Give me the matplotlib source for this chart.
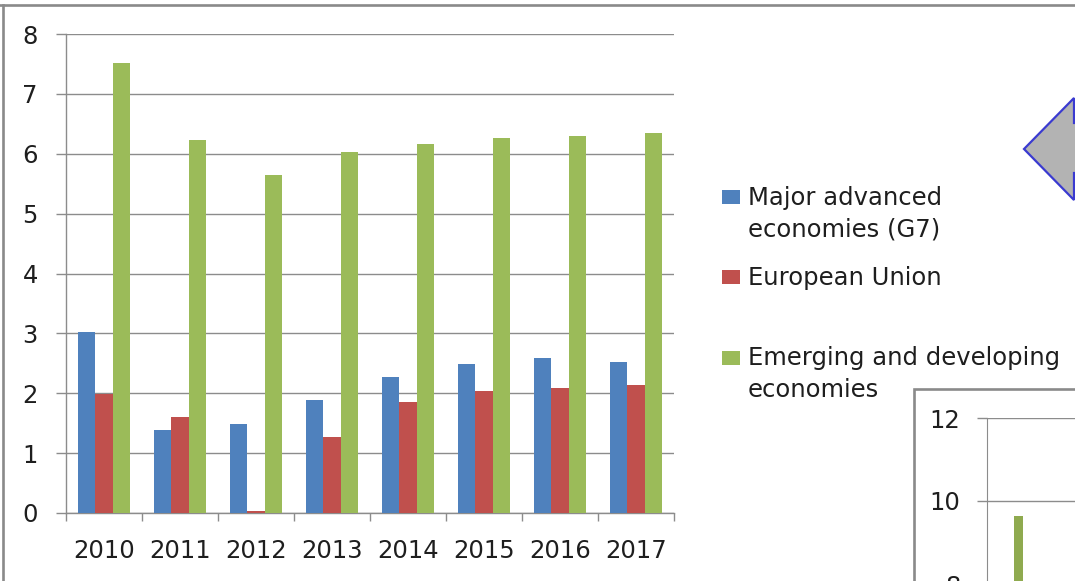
import matplotlib
matplotlib.use("Agg")
import matplotlib.pyplot as plt
import matplotlib.patches as mpatches
from matplotlib.lines import Line2D
import numpy as np

# ---------------- data ----------------
years = ["2010", "2011", "2012", "2013", "2014", "2015", "2016", "2017"]
g7 = [3.02, 1.38, 1.48, 1.89, 2.27, 2.49, 2.59, 2.53]
eu = [1.99, 1.61, 0.03, 1.27, 1.85, 2.04, 2.08, 2.13]
emerging = [7.51, 6.23, 5.65, 6.03, 6.16, 6.27, 6.29, 6.35]
series_labels = ["Major advanced\neconomies (G7)", "European Union",
                 "Emerging and developing\neconomies"]
y_ticks = [0, 1, 2, 3, 4, 5, 6, 7, 8]

inset_emerging = [9.65]
inset_ticks = [8, 10, 12]

colors = ["#4F81BD", "#C0504D", "#9BBB59"]
inset_green = "#8FAA4F"
grid_c = "#8C8C8C"
text_c = "#1E1E1E"
FS = 17.5

W, H = 1075, 581
fig = plt.figure(figsize=(W / 100, H / 100), dpi=100)
plt.rcParams['font.family'] = ['DejaVu Sans']


def fx(x):
    return x / W


def fy(y):
    return 1 - y / H


# ---------------- main axes ----------------
ax = fig.add_axes([fx(66), fy(513), (674 - 66) / W, (513 - 34) / H])
x = np.arange(len(years))
bw = 0.224
for i, (vals, c) in enumerate(zip([g7, eu, emerging], colors)):
    ax.bar(x + (i - 1) * bw, vals, width=bw, color=c, zorder=3)

ax.set_xlim(-0.5, len(years) - 0.5)
ax.set_ylim(0, 8)
ax.set_yticks(y_ticks)
ax.set_yticklabels([str(t) for t in y_ticks])
ax.set_xticks(x)
ax.set_xticklabels(years)
ax.set_xticks(np.arange(len(years) + 1) - 0.5, minor=True)
ax.yaxis.grid(True, color=grid_c, lw=1.0)
ax.set_axisbelow(True)
for s in ["top", "right"]:
    ax.spines[s].set_visible(False)
for s in ["left", "bottom"]:
    ax.spines[s].set_color(grid_c)
    ax.spines[s].set_linewidth(1.0)
ax.tick_params(axis="y", length=7.2, width=1.0, color=grid_c, pad=13,
               labelsize=FS, labelcolor=text_c)
ax.tick_params(axis="x", which="major", length=0, pad=18.5,
               labelsize=FS, labelcolor=text_c)
ax.tick_params(axis="x", which="minor", length=5.8, width=1.0, color=grid_c)

# ---------------- legend (manual) ----------------
marker_centers = [197, 277, 358]
first_baselines = [205, 285, 365]
for lab, c, yc, yb in zip(series_labels, colors, marker_centers, first_baselines):
    fig.patches.append(mpatches.Rectangle((fx(722), fy(yc + 7)), 18 / W, 14 / H,
                                          transform=fig.transFigure,
                                          facecolor=c, edgecolor="none"))
    for k, line in enumerate(lab.split("\n")):
        fig.text(fx(748), fy(yb + 32 * k), line, fontsize=FS, color=text_c,
                 va="baseline", ha="left")

# ---------------- outer frame lines ----------------
fig.lines.append(Line2D([0, 1], [fy(4.5), fy(4.5)], transform=fig.transFigure,
                        color="#8A8A8A", lw=1.9))
fig.lines.append(Line2D([fx(2.5), fx(2.5)], [fy(4.5), 0], transform=fig.transFigure,
                        color="#8A8A8A", lw=1.9))

# ---------------- arrow shape top right ----------------
pts = [(1074, 98), (1024, 149), (1074, 200), (1074, 173), (1100, 173),
       (1100, 123), (1074, 123)]
fig.patches.append(mpatches.Polygon([(fx(a), fy(b)) for a, b in pts], closed=True,
                                    transform=fig.transFigure,
                                    facecolor="#B3B3B3", edgecolor="#3A3AD0",
                                    lw=1.6, joinstyle="miter"))

# ---------------- inset chart frame ----------------
fig.patches.append(mpatches.Rectangle((fx(914), fy(800)), (1200 - 914) / W, (800 - 389) / H,
                                      transform=fig.transFigure, facecolor="white",
                                      edgecolor="#8A8A8A", lw=1.9, zorder=-1))

# ---------------- inset axes ----------------
px_unit = 41.5
bottom_px = 418 + 12 * px_unit
right_px = 1400
ax2 = fig.add_axes([fx(987), fy(bottom_px), (right_px - 987) / W, (bottom_px - 418) / H])
ax2.set_facecolor("none")
cat_px = 45
ax2.set_xlim(-0.5, -0.5 + (right_px - 987) / cat_px)
ax2.set_ylim(0, 12)
ix = np.arange(len(inset_emerging))
ax2.bar(ix + 0.2, inset_emerging, width=0.2, color=inset_green, zorder=3)
ax2.set_yticks(inset_ticks)
ax2.set_yticklabels([str(t) for t in inset_ticks])
ax2.set_xticks([])
ax2.yaxis.grid(True, color=grid_c, lw=1.0)
ax2.set_axisbelow(True)
for s in ["top", "right", "bottom"]:
    ax2.spines[s].set_visible(False)
ax2.spines["left"].set_color(grid_c)
ax2.tick_params(axis="y", length=7.2, width=1.0, color=grid_c, pad=12,
                labelsize=FS, labelcolor=text_c)

fig.savefig("out.png", dpi=100, facecolor="white")
